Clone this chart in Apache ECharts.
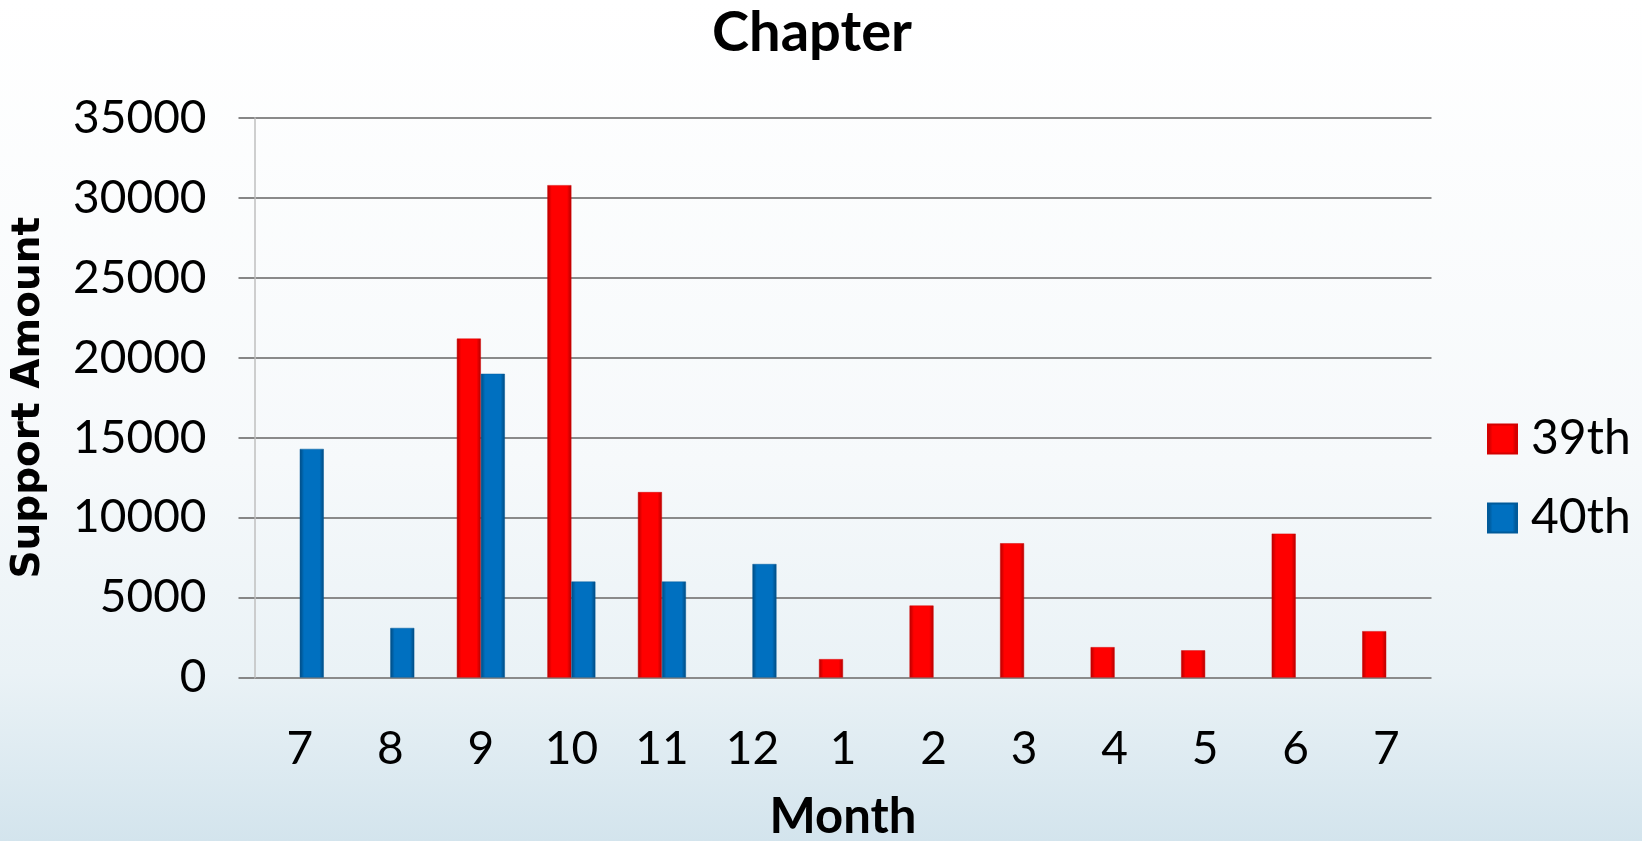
<!DOCTYPE html>
<html>
<head>
<meta charset="utf-8">
<script src="https://cdn.jsdelivr.net/npm/echarts@6/dist/echarts.min.js"></script>
<style>
html,body{margin:0;padding:0;width:1642px;height:841px;overflow:hidden;}
#c{width:1642px;height:841px;}
</style>
</head>
<body>
<div id="c"></div>
<script>
const categories = ['7','8','9','10','11','12','1','2','3','4','5','6','7'];
const series39 = [null, null, 21200, 30800, 11600, null, 1150, 4500, 8400, 1900, 1700, 9000, 2900];
const series40 = [14300, 3100, 19000, 6000, 6000, 7100, null, null, null, null, null, null, null];
const yTicks = [0, 5000, 10000, 15000, 20000, 25000, 30000, 35000];

const FONT = 'Lato';

function barGrad(edge, main) {
  return new echarts.graphic.LinearGradient(0, 0, 1, 0, [
    {offset: 0, color: edge},
    {offset: 0.18, color: main},
    {offset: 0.82, color: main},
    {offset: 1, color: edge}
  ]);
}

const chart = echarts.init(document.getElementById('c'));
chart.setOption({
  animation: false,
  backgroundColor: new echarts.graphic.LinearGradient(0, 0, 0, 1, [
    {offset: 0, color: '#ffffff'},
    {offset: 0.55, color: '#f6f9fb'},
    {offset: 0.8, color: '#eaf2f6'},
    {offset: 1, color: '#d3e4ed'}
  ]),
  title: {
    text: 'Chapter',
    left: 807,
    top: 0,
    textAlign: 'center',
    textStyle: {fontFamily: FONT, fontWeight: 'bold', fontSize: 56, color: '#000'}
  },
  legend: {
    orient: 'vertical',
    left: 1482,
    top: 410,
    itemWidth: 29,
    itemHeight: 29,
    itemGap: 31,
    icon: 'rect',
    textStyle: {fontFamily: FONT, fontSize: 48, color: '#000', padding: [0, 0, 0, 9]},
    data: ['39th', '40th']
  },
  grid: {left: 254.5, right: 210.5, top: 118, bottom: 163.5, outerBoundsMode: 'none', containLabel: false},
  xAxis: {
    type: 'category',
    data: categories,
    name: 'Month',
    nameLocation: 'middle',
    nameGap: 115,
    nameTextStyle: {fontFamily: FONT, fontWeight: 'bold', fontSize: 49, color: '#000'},
    axisLine: {show: false},
    axisTick: {show: false},
    axisLabel: {fontFamily: FONT, fontSize: 46, color: '#000', margin: 49}
  },
  yAxis: {
    type: 'value',
    min: 0,
    max: 35000,
    interval: 5000,
    name: 'Support Amount',
    nameLocation: 'middle',
    nameGap: 206,
    nameTextStyle: {fontFamily: 'DejaVu Sans', fontWeight: 'bold', fontSize: 39, color: '#000'},
    axisLine: {show: true, lineStyle: {color: '#bfbfbf', width: 1.5}},
    axisTick: {show: true, length: 16, lineStyle: {color: '#868686', width: 2}},
    axisLabel: {
      fontFamily: FONT, fontSize: 46, color: '#000', margin: 48,
      formatter: function (v) { return yTicks.indexOf(v) >= 0 ? String(v) : ''; }
    },
    splitLine: {show: true, lineStyle: {color: '#8a8a8a', width: 2}}
  },
  series: [
    {
      name: '39th',
      type: 'bar',
      data: series39,
      barWidth: 24,
      barGap: '0%',
      itemStyle: {color: barGrad('#b30000', '#ff0000'), borderColor: '#d40000', borderWidth: 0.5}
    },
    {
      name: '40th',
      type: 'bar',
      data: series40,
      barWidth: 24,
      barGap: '0%',
      itemStyle: {color: barGrad('#004a80', '#0070c0'), borderColor: '#005a9a', borderWidth: 0.5}
    }
  ]
});
</script>
</body>
</html>
